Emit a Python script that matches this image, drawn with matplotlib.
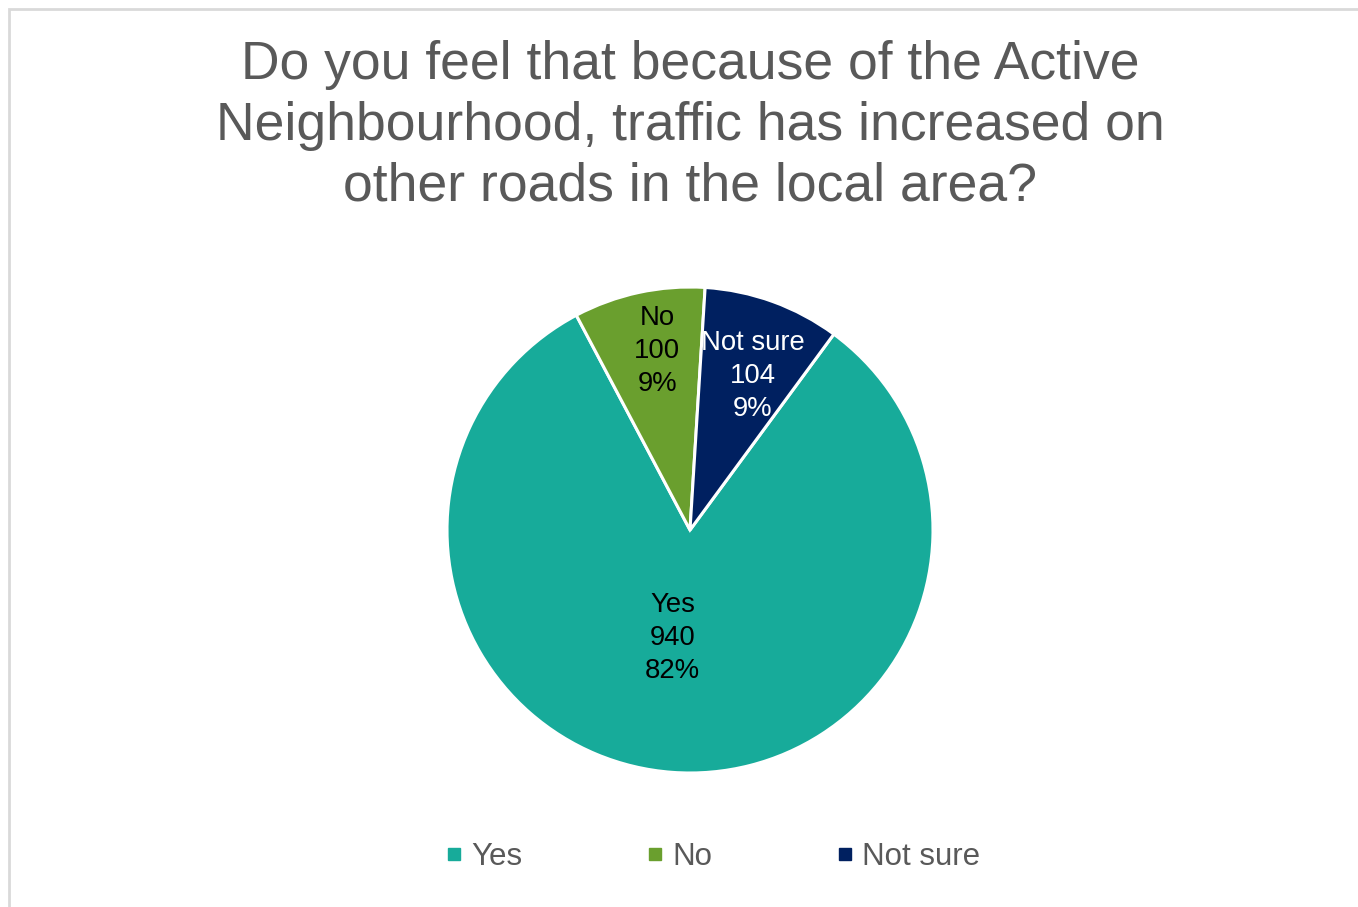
import matplotlib.pyplot as plt
import numpy as np
from matplotlib.lines import Line2D
from matplotlib.patches import Rectangle

plt.rcParams['font.family'] = ['Liberation Sans', 'DejaVu Sans']

# data
categories = ['Yes', 'No', 'Not sure']
counts = [940, 100, 104]
percent_labels = ['82%', '9%', '9%']

colors = ['#17AB9A', '#6A9F2E', '#002060']
text_colors = ['black', 'black', 'white']
# label placement: radius fraction and clockwise nudge (deg) from wedge middle
label_dist = [0.45, 0.75, 0.685]
label_nudge = [5.0, 1.8, 2.2]

fig = plt.figure(figsize=(13.58, 9.07), dpi=100)

# light grey chart frame (right/bottom run off the picture)
fig.patches.append(Rectangle((9 / 1358, -0.1), 1.2, 1 - 9 / 907 + 0.1,
                             transform=fig.transFigure, fill=False,
                             edgecolor='#D9D9D9', linewidth=2))

ax = fig.add_axes([447 / 1358, 134 / 907, 486 / 1358, 486 / 907])
wedges, _ = ax.pie(counts, colors=colors, startangle=90 - 36.3,
                   counterclock=False, radius=1,
                   wedgeprops=dict(edgecolor='white', linewidth=2.2))
ax.set_xlim(-1, 1)
ax.set_ylim(-1, 1)
ax.set_aspect('equal')
ax.axis('off')

for w, cat, n, p, tc, d, nd in zip(wedges, categories, counts, percent_labels,
                                   text_colors, label_dist, label_nudge):
    ang = np.deg2rad((w.theta1 + w.theta2) / 2 - nd)
    ax.text(d * np.cos(ang), d * np.sin(ang), f'{cat}\n{n}\n{p}',
            ha='center', va='center', color=tc, fontsize=19.8,
            linespacing=1.35)

fig.text(690 / 1358, 1 - 40 / 907,
         'Do you feel that because of the Active\n'
         'Neighbourhood, traffic has increased on\n'
         'other roads in the local area?',
         ha='center', va='top', fontsize=38.5, color='#595959',
         linespacing=1.27)

handles = [Line2D([], [], linestyle='none', marker='s', markersize=8,
                  markerfacecolor=c, markeredgecolor=c) for c in colors]
fig.legend(handles, categories, loc='center', ncol=3,
           bbox_to_anchor=(713 / 1358, 1 - 857 / 907), frameon=False,
           fontsize=22.5, labelcolor='#595959', handlelength=0.5,
           handletextpad=0.3, columnspacing=4.0)

fig.savefig('out.png', dpi=100)
